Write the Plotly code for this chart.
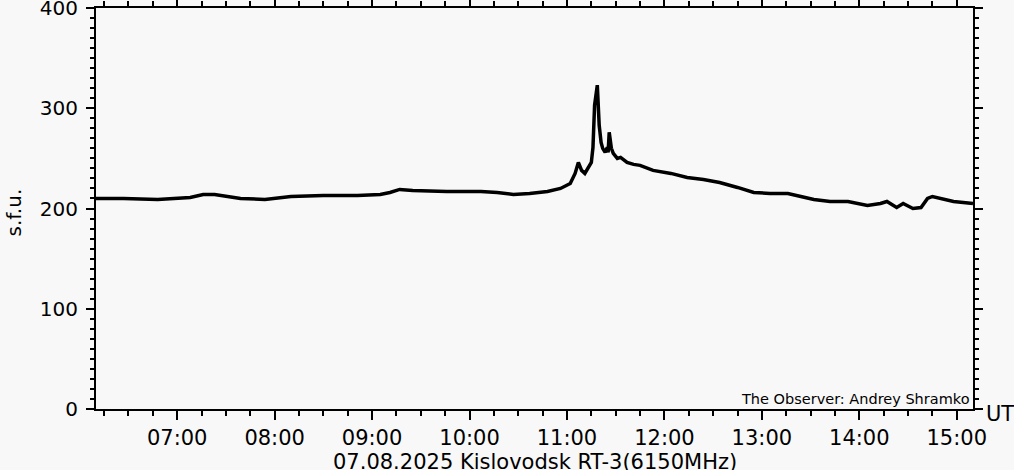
import plotly.graph_objects as go

DAY = "2025-08-07"

# time (UT, HH:MM) and flux (s.f.u.)
times = ["06:10", "06:27", "06:48", "07:08", "07:16", "07:23", "07:39", "07:54",
         "08:10", "08:30", "08:51", "09:05", "09:11", "09:17", "09:25", "09:46",
         "10:07", "10:17", "10:27", "10:37", "10:48", "10:56", "11:02", "11:05",
         "11:07", "11:09", "11:11", "11:13", "11:15", "11:16", "11:17", "11:18:40",
         "11:19:10", "11:19:50", "11:21", "11:22", "11:23:30", "11:24:50", "11:25:20",
         "11:26", "11:27:20", "11:28:30", "11:31", "11:33", "11:37", "11:41", "11:45",
         "11:53", "12:04", "12:14", "12:24", "12:34", "12:45", "12:55", "13:05",
         "13:16", "13:24", "13:32", "13:42", "13:53", "14:05", "14:13", "14:17",
         "14:23", "14:27", "14:33", "14:38", "14:42", "14:45", "14:50", "14:58",
         "15:04", "15:10"]
flux = [210, 210, 209, 211, 214, 214, 210, 209,
        212, 213, 213, 214, 216, 219, 218, 217,
        217, 216, 214, 215, 217, 220, 225, 235,
        246, 238, 235, 241, 246, 261, 303, 323,
        303, 283, 266, 260, 256, 261, 256,
        276, 260, 255, 250, 251, 246, 244, 243,
        238, 235, 231, 229, 226, 221, 216, 215,
        215, 212, 209, 207, 207, 203, 205, 207,
        201, 205, 200, 201, 210, 212, 210, 207,
        206, 205]

y_ticks = [0, 100, 200, 300, 400]
x_ticks = ["07:00", "08:00", "09:00", "10:00", "11:00", "12:00", "13:00", "14:00", "15:00"]

title_text = "07.08.2025 Kislovodsk RT-3(6150MHz)"
observer_text = "The Observer: Andrey Shramko"

def ts(t):
    if t.count(":") == 1:
        t = t + ":00"
    return f"{DAY} {t}"

xs = [ts(t) for t in times]

BG = "#f8f8f8"
FONT = "DejaVu Sans"

fig = go.Figure()
fig.add_trace(go.Scatter(x=xs, y=flux, mode="lines",
                         line=dict(color="black", width=3.5), hoverinfo="skip"))

fig.update_layout(
    width=1014, height=470,
    margin=dict(l=96, r=41, t=8, b=61, autoexpand=False),
    paper_bgcolor=BG, plot_bgcolor=BG,
    showlegend=False,
    font=dict(family=FONT, color="black"),
)

fig.update_xaxes(
    type="date", automargin=False,
    range=[ts("06:10"), ts("15:10")],
    tickmode="array",
    tickvals=[ts(t) for t in x_ticks],
    ticktext=x_ticks,
    ticks="outside", ticklen=9, tickwidth=2, tickcolor="black",
    minor=dict(dtick=15 * 60 * 1000, tick0=ts("07:00"), ticks="outside",
               ticklen=5, tickwidth=2, tickcolor="black", showgrid=False),
    showline=True, linewidth=2, linecolor="black", mirror="ticks",
    showgrid=False, zeroline=False,
    tickfont=dict(size=21, family=FONT),
    ticklabeloverflow="allow",
)

fig.update_yaxes(
    automargin=False,
    range=[0, 400],
    tickmode="array", tickvals=y_ticks, ticktext=[str(v) for v in y_ticks],
    ticks="outside", ticklen=8, tickwidth=2, tickcolor="black",
    minor=dict(dtick=10, ticks="outside", ticklen=4, tickwidth=2,
               tickcolor="black", showgrid=False),
    showline=True, linewidth=2, linecolor="black", mirror="ticks",
    showgrid=False, zeroline=False,
    tickfont=dict(size=20, family=FONT),
    ticklabelstandoff=4,
    ticklabeloverflow="allow",
)

fig.add_annotation(text="s.f.u.", textangle=-90, xref="paper", yref="paper",
                   x=(14 - 96) / 877, y=(408 - 212) / 400, xanchor="center",
                   yanchor="middle", showarrow=False,
                   font=dict(size=20, family=FONT, color="black"))
fig.add_annotation(text="UT", xref="paper", yref="paper",
                   x=(1000 - 96) / 877, y=(408 - 413) / 400, xanchor="center",
                   yanchor="middle", showarrow=False,
                   font=dict(size=21, family=FONT, color="black"))
fig.add_annotation(text=title_text, xref="paper", yref="paper",
                   x=0.5, y=(408 - 461) / 400, xanchor="center",
                   yanchor="middle", showarrow=False,
                   font=dict(size=21, family=FONT, color="black"))
fig.add_annotation(text=observer_text, xref="paper", yref="paper",
                   x=(972 - 96) / 877, y=(408 - 398) / 400, xanchor="right",
                   yanchor="middle", showarrow=False,
                   font=dict(size=14.5, family=FONT, color="black"))

fig.write_html("out.html",
               config={"displayModeBar": False, "staticPlot": True},
               post_script="document.body.style.margin='0';"
                           "document.body.style.background='#f8f8f8';")
